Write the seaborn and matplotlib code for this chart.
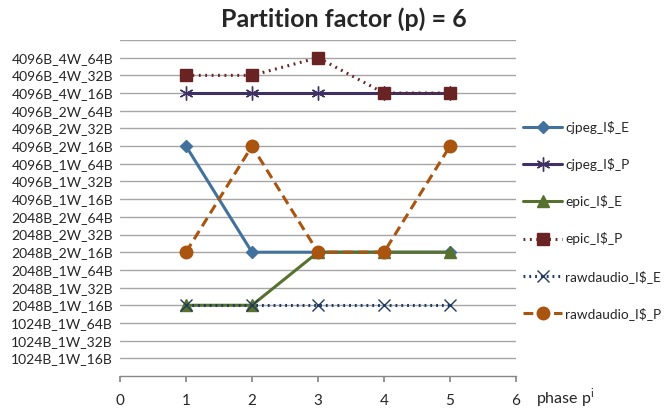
import matplotlib
matplotlib.use("Agg")
import matplotlib.pyplot as plt
import seaborn as sns
import pandas as pd

y_labels = ["1024B_1W_16B", "1024B_1W_32B", "1024B_1W_64B",
            "2048B_1W_16B", "2048B_1W_32B", "2048B_1W_64B",
            "2048B_2W_16B", "2048B_2W_32B", "2048B_2W_64B",
            "4096B_1W_16B", "4096B_1W_32B", "4096B_1W_64B",
            "4096B_2W_16B", "4096B_2W_32B", "4096B_2W_64B",
            "4096B_4W_16B", "4096B_4W_32B", "4096B_4W_64B"]
phases = [1, 2, 3, 4, 5]
series_names = ["cjpeg_I$_E", "cjpeg_I$_P", "epic_I$_E", "epic_I$_P",
                "rawdaudio_I$_E", "rawdaudio_I$_P"]
cjpeg_E = ["4096B_2W_16B", "2048B_2W_16B", "2048B_2W_16B", "2048B_2W_16B", "2048B_2W_16B"]
cjpeg_P = ["4096B_4W_16B"] * 5
epic_E = ["2048B_1W_16B", "2048B_1W_16B", "2048B_2W_16B", "2048B_2W_16B", "2048B_2W_16B"]
epic_P = ["4096B_4W_32B", "4096B_4W_32B", "4096B_4W_64B", "4096B_4W_16B", "4096B_4W_16B"]
raw_E = ["2048B_1W_16B"] * 5
raw_P = ["2048B_2W_16B", "4096B_2W_16B", "2048B_2W_16B", "2048B_2W_16B", "4096B_2W_16B"]
series_values = [cjpeg_E, cjpeg_P, epic_E, epic_P, raw_E, raw_P]

styles = {
    "cjpeg_I$_E": dict(color="#41719C", marker="D", ms=6.5, ls="-", mew=1.0),
    "cjpeg_I$_P": dict(color="#3F3163", marker=(6, 2, 0), ms=10, ls="-", mew=1.0),
    "epic_I$_E": dict(color="#56722E", marker="^", ms=9, ls="-", mew=1.0),
    "epic_I$_P": dict(color="#6A2323", marker="s", ms=9, ls=(0, (0.6, 1.5)), mew=1.0),
    "rawdaudio_I$_E": dict(color="#1F3A60", marker="x", ms=8.5, ls=(0, (0.6, 1.3)), mew=1.0),
    "rawdaudio_I$_P": dict(color="#A9540F", marker="o", ms=9, ls=(0, (3.2, 1.8)), mew=1.0),
}

rows = []
for name, vals in zip(series_names, series_values):
    for p, v in zip(phases, vals):
        rows.append({"series": name, "phase": p, "level": y_labels.index(v) + 1})
df = pd.DataFrame(rows)

sns.set_theme(style="white")
plt.rcParams["font.family"] = ["Lato", "DejaVu Sans"]

fig = plt.figure(figsize=(6.65, 4.15), dpi=100)
ax = fig.add_axes([120 / 665, 1 - 376 / 415, (516 - 120) / 665, (376 - 40) / 415])

for name in series_names:
    st = styles[name]
    sub = df[df["series"] == name]
    sns.lineplot(data=sub, x="phase", y="level", ax=ax, color=st["color"],
                 linestyle=st["ls"], linewidth=2.2, marker=st["marker"],
                 markersize=st["ms"], markeredgecolor=st["color"],
                 markerfacecolor=st["color"], markeredgewidth=st["mew"],
                 label=name, estimator=None, sort=False)

ax.set_xlim(0, 6)
ax.set_ylim(0, 19)
ax.set_xticks(range(0, 7))
ax.set_yticks(range(1, 19))
ax.set_yticklabels(y_labels, fontsize=10)
ax.tick_params(axis="x", labelsize=11, length=4, direction="out", color="#888888",
               bottom=True, pad=9)
ax.tick_params(axis="y", length=0, pad=5)
for y in range(1, 20):
    ax.axhline(y, color="#A6A6A6", lw=1.0, zorder=0)
for s in ["top", "right", "left"]:
    ax.spines[s].set_visible(False)
ax.spines["bottom"].set_color("#888888")
ax.spines["bottom"].set_linewidth(1.0)
ax.set_xlabel("")
ax.set_ylabel("")

fig.text(344 / 665, 1 - 19 / 415, "Partition factor (p) = 6", ha="center", va="center",
         fontsize=18, fontweight="bold")
fig.text(536 / 665, 1 - 398 / 415, "phase p$^{\\mathregular{i}}$", ha="left", va="center",
         fontsize=11.5)

leg = ax.legend(loc="upper left", bbox_to_anchor=(516 / 665, 1 - 114 / 415),
                bbox_transform=fig.transFigure, frameon=False, fontsize=9.8,
                labelspacing=1.78, handlelength=2.9, handletextpad=0.2, borderpad=0)

fig.savefig("out.png", dpi=100)
